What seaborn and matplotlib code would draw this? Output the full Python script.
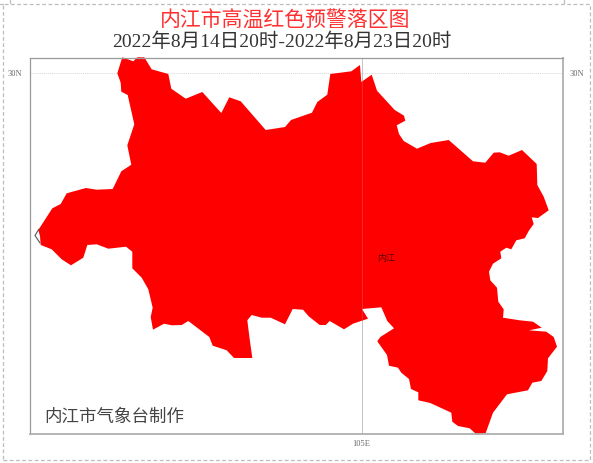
#!/usr/bin/env python3
"""
Neijiang high temperature red warning area map
"""

import matplotlib
matplotlib.use("Agg")
import matplotlib.pyplot as plt
from matplotlib.lines import Line2D
from matplotlib.patches import Rectangle
import seaborn as sns

TITLE = "内江市高温红色预警落区图"
SUBTITLE = "2022年8月14日20时-2022年8月23日20时"
CREDIT = "内江市气象台制作"
CITY_LABEL = "内江"

# warning area outline
area_x = [122.3, 133.3, 137.3, 144.3, 151.7, 168.3, 171.3, 185.7, 202.3, 221.3, 229.3, 240.7,
          265.7, 285, 291, 312, 317.3, 327.3, 330.3, 351.3, 360, 361.3, 371.7, 377, 394.7, 404,
          405.3, 396.7, 399, 403.7, 417, 430.7, 448.7, 473, 485.3, 493.7, 499.7, 508.7, 522,
          536.7, 537.3, 543.7, 548.7, 538, 531.7, 533.7, 528.7, 524.7, 516.3, 511.3, 506.3,
          500.3, 501.3, 493, 489, 490.3, 497, 498.3, 503.7, 503, 519.7, 533, 541.7, 529, 546.3,
          553.7, 557, 548, 547.3, 541.3, 532.3, 528, 507, 493, 485.7, 477, 469.7, 458, 452.3,
          451.3, 430.3, 418.3, 418.3, 411, 409, 401.3, 398, 389, 387, 377.3, 380.3, 394, 387.3,
          381.3, 362, 368, 353, 344, 329.7, 325.7, 319.7, 308.7, 303, 292.7, 285, 270.7, 261.7,
          251.7, 247.3, 249.7, 252.3, 234, 226.7, 212.7, 209.3, 188.3, 181.7, 171.7, 164, 153,
          150.7, 152.7, 148.3, 141.7, 132.3, 132.3, 126, 108.3, 96.7, 87.3, 83.3, 71, 61.7, 51.7,
          40.7, 40, 38.3, 52.3, 60.7, 66.7, 86, 96.7, 112.7, 121.3, 131.3, 127.3, 134.3, 127.7, 121.3,
          120.7, 117.3]
area_y = [57.3, 61.3, 57.3, 57.3, 69.3, 74, 88.7, 98.7, 92, 113, 97.3, 101.3,
          130, 127, 120, 112.7, 102, 94.7, 74, 71.3, 65, 82, 74.7, 90.7, 110, 115.7,
          120.7, 125.3, 134, 141, 148.7, 143, 140, 161.3, 162.7, 152.7, 152.3, 155.7, 150,
          164, 185, 196.7, 210.3, 218, 217.3, 224, 231, 238.3, 240.3, 249.3, 247.7,
          251.7, 258.3, 263.7, 271.7, 280.3, 287.7, 301.7, 309.3, 317.7, 320.3, 321.7, 327.7, 330.3, 331.7,
          337, 346.7, 358.3, 371, 381, 382.7, 390.3, 394.3, 412.7, 433, 435, 428.3, 426, 421.7,
          412.7, 403, 400.3, 392.3, 389, 379, 372.7, 367.7, 365.7, 355, 341.3, 337, 328.3, 321,
          307.3, 309, 318.7, 323.7, 329.3, 321, 325, 325, 316.3, 309.7, 309, 324.3, 317.7, 317.7,
          315, 320.3, 339.3, 358, 358, 350.3, 345.7, 337, 321, 325, 325.3, 323.7, 329.7,
          317, 307.7, 289.3, 277.7, 268.3, 251.7, 246.7, 248.7, 244.3, 245, 257.7, 265.3, 259.3, 249.3,
          245, 236, 230, 208.3, 204, 193.3, 188, 189.7, 189, 171.3, 164.7, 145.3, 124.3, 95, 91.7,
          82.7, 73.3]

# small piece of county boundary left uncovered at the western tip
tip_x = [39, 35, 40]
tip_y = [229, 235.5, 243]

# graticule
lon_tick = [361.5]
lat_tick = [73]
lon_labels = ["105E"]
lat_labels = ["30N"]

W, H = 593, 463


def main():
    sns.set_style("white")
    plt.rcParams['font.family'] = ['Liberation Serif', 'Noto Sans CJK SC', 'DejaVu Sans']

    fig = plt.figure(figsize=(W / 100, H / 100), dpi=100)
    ax = fig.add_axes([29.5 / W, 1 - 434 / H, 533.5 / W, 376.5 / H])
    ax.set_xlim(29.5, 563)
    ax.set_ylim(434, 57.5)

    ax.fill(area_x, area_y, color="#ff0000", lw=0, zorder=2, clip_on=False)
    sns.lineplot(x=tip_x, y=tip_y, sort=False, estimator=None, color="#555555", lw=0.8, ax=ax, zorder=3)

    # meridian is grey on white and only faintly visible over the fill
    ax.axvline(lon_tick[0], color="#c4c4c4", lw=0.7, zorder=1)
    ax.axvline(lon_tick[0], color="#c4c4c4", lw=0.7, alpha=0.22, zorder=3)
    ax.axhline(lat_tick[0], color="#d8d8d8", lw=0.7, ls=(0, (1, 1)), zorder=1)

    ax.set_xticks(lon_tick, lon_labels, fontsize=6, color="#666666")
    ax.set_yticks(lat_tick, lat_labels, fontsize=6, color="#666666")
    ax.tick_params(axis="x", length=0, pad=4)
    ax.tick_params(axis="y", length=0, pad=5, labelright=True, labelleft=True)

    for side, spine in ax.spines.items():
        spine.set_color("#9a9a9a" if side in ("left", "top") else "#b0b0b0")
        spine.set_linewidth(0.9 if side in ("left", "top") else 1.3)
        spine.set_zorder(5)

    ax.text(386, 258.5, CITY_LABEL, fontsize=6.5, color="#5a0000", ha="center", va="center", zorder=4)
    ax.text(44, 417, CREDIT, fontsize=12.6, color="#444444", ha="left", va="center", zorder=4,
            family=['Noto Sans CJK SC', 'DejaVu Sans'])

    fig.text(285.5 / W, 1 - 22 / H, TITLE, fontsize=15, color="#ff3030", ha="center", va="center")
    fig.text(281.5 / W, 1 - 42 / H, SUBTITLE, fontsize=14, color="#333333", ha="center", va="center")

    # dashed page border of the original document, with its corner marks
    border = dict(color="#bdbdbd", lw=0.9, ls=(0, (3, 2)))
    page = Rectangle((2.7 / W, 1 - 460 / H), 587.5 / W, 456.5 / H, transform=fig.transFigure,
                     fill=False, ec=border["color"], lw=border["lw"], ls=border["ls"])
    fig.add_artist(page)
    fig.add_artist(Line2D([0, 2.7 / W], [1 - 3.5 / H] * 2, color=border["color"], lw=0.9))
    fig.add_artist(Line2D([9.5 / W] * 2, [1, 1 - 3 / H], color=border["color"], lw=0.9))
    fig.add_artist(Line2D([563.5 / W] * 2, [1, 1 - 3 / H], color=border["color"], lw=0.9))

    fig.savefig("out.png", dpi=100)
    plt.close(fig)


if __name__ == "__main__":
    main()
